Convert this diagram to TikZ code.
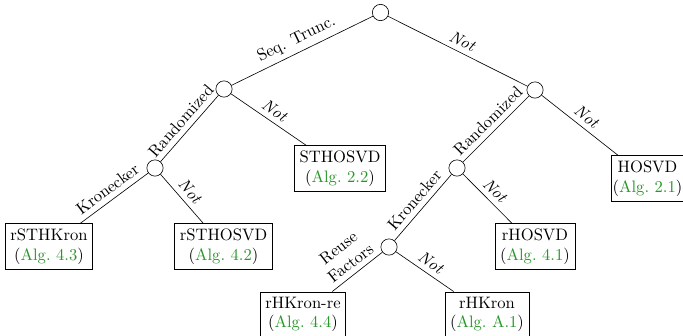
\documentclass[tikz,border=0pt]{standalone}
\definecolor{alggreen}{RGB}{40,150,40}
\newcommand{\alg}[1]{(\textcolor{alggreen}{Alg.~#1})}
\begin{document}
\begin{tikzpicture}[x=0.645pt,y=-0.645pt,
  every node/.style={font=\fontsize{10.7}{12.6}\selectfont},
  dec/.style={circle,draw,minimum size=10.5pt,inner sep=0pt},
  leaf/.style={draw,align=center},
  lab/.style={sloped,above,midway},
  conn/.style={draw}]
\useasboundingbox (0,0) rectangle (683,335);
% decision nodes
\node[dec] (r)   at (380.5,12.5) {};
\node[dec] (s)   at (224,89) {};
\node[dec] (n)   at (535,90) {};
\node[dec] (sr)  at (155,168) {};
\node[dec] (nr)  at (457,168) {};
\node[dec] (nk)  at (389,247) {};
% leaves
\node[leaf] (sthosvd)  at (340,168.5) {STHOSVD\\\alg{2.2}};
\node[leaf,inner xsep=1pt] (hosvd) at (647.5,178.5) {HOSVD\\\alg{2.1}};
\node[leaf] (rsthkron) at (49,246.5) {rSTHKron\\\alg{4.3}};
\node[leaf] (rsthosvd) at (223.5,246.5) {rSTHOSVD\\\alg{4.2}};
\node[leaf] (rhosvd)   at (535,246.5) {rHOSVD\\\alg{4.1}};
\node[leaf] (rhkronre) at (303,314.5) {rHKron-re\\\alg{4.4}};
\node[leaf] (rhkron)   at (487,314.5) {rHKron\\\alg{A.1}};
% connectors
\path[conn] (r) -- node[lab] {Seq. Trunc.} (s);
\path[conn] (r) -- node[lab] {\textit{Not}} (n);
\path[conn] (s) -- node[lab] {Randomized} (sr);
\path[conn] (s) -- node[lab] {\textit{Not}} (sthosvd);
\path[conn] (sr) -- node[lab] {Kronecker} (rsthkron);
\path[conn] (sr) -- node[lab] {\textit{Not}} (rsthosvd);
\path[conn] (n) -- node[lab] {Randomized} (nr);
\path[conn] (n) -- node[lab] {\textit{Not}} (hosvd);
\path[conn] (nr) -- node[lab] {Kronecker} (nk);
\path[conn] (nr) -- node[lab] {\textit{Not}} (rhosvd);
\path[conn] (nk) -- node[lab,align=center] {Reuse\\Factors} (rhkronre);
\path[conn] (nk) -- node[lab] {\textit{Not}} (rhkron);
\end{tikzpicture}
\end{document}
